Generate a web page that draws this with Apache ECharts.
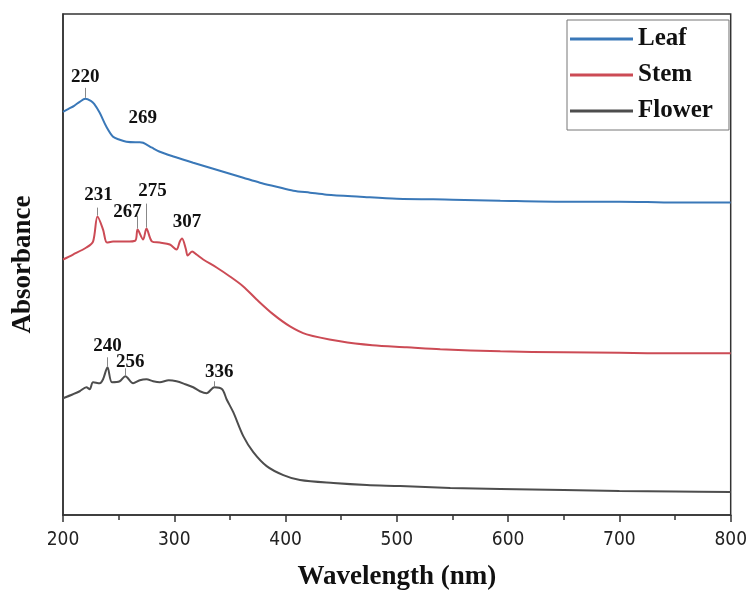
<!DOCTYPE html>
<html>
<head>
<meta charset="utf-8">
<script src="https://cdn.jsdelivr.net/npm/echarts@6/dist/echarts.min.js"></script>
<style>
  html, body { margin: 0; padding: 0; background: #fff; }
  #chart { width: 750px; height: 596px; }
</style>
</head>
<body>
<div id="chart"></div>
<script>
// wavelength (nm) / absorbance (a.u., curves are offset)
const leafWl  = [200, 205, 210, 215, 220, 225, 228, 233, 239, 245, 251, 257, 265, 269, 272, 280, 287, 300, 317, 332, 347, 362, 377, 392, 407, 422, 437, 467, 500, 550, 593, 650, 700, 750, 800];
const leafAbs = [4.04, 4.07, 4.10, 4.14, 4.17, 4.15, 4.12, 4.03, 3.89, 3.79, 3.76, 3.74, 3.735, 3.735, 3.73, 3.68, 3.64, 3.59, 3.53, 3.48, 3.43, 3.38, 3.33, 3.29, 3.25, 3.23, 3.21, 3.19, 3.17, 3.16, 3.15, 3.14, 3.14, 3.13, 3.13];

const stemWl  = [200, 209, 221, 227, 231, 236, 239.5, 245, 257, 265, 267, 272, 275, 280, 287, 296, 302, 305, 307, 310.5, 312, 316, 320, 326, 338, 350, 362, 374, 389, 404, 419, 449, 478, 509, 539, 593, 650, 700, 750, 800];
const stemAbs = [2.56, 2.61, 2.68, 2.74, 2.99, 2.86, 2.73, 2.74, 2.74, 2.75, 2.86, 2.76, 2.87, 2.74, 2.73, 2.71, 2.66, 2.74, 2.77, 2.66, 2.60, 2.64, 2.61, 2.56, 2.48, 2.39, 2.29, 2.16, 2.01, 1.89, 1.81, 1.74, 1.70, 1.68, 1.66, 1.64, 1.63, 1.625, 1.62, 1.62];

const flowerWl  = [200, 209, 215, 221, 224, 227, 233, 236, 240, 244, 251, 256, 263, 269, 275, 281, 287, 295, 302, 310, 317, 323, 329, 336, 343, 347, 353, 362, 371, 383, 398, 413, 443, 473, 503, 548, 593, 650, 700, 750, 800];
const flowerAbs = [1.17, 1.21, 1.24, 1.28, 1.26, 1.33, 1.32, 1.36, 1.48, 1.33, 1.34, 1.39, 1.32, 1.35, 1.36, 1.34, 1.33, 1.35, 1.34, 1.31, 1.28, 1.24, 1.22, 1.28, 1.26, 1.16, 1.03, 0.79, 0.63, 0.49, 0.40, 0.35, 0.32, 0.30, 0.29, 0.27, 0.26, 0.25, 0.24, 0.235, 0.23];

const leafPeaks = [220, 269];
const stemPeaks = [231, 267, 275, 307];
const flowerPeaks = [240, 256, 336];

const xTicks = [200, 300, 400, 500, 600, 700, 800];

// label offset from peak (px) and leader line length (px)
const peakLook = {
  220: { dx: 0, dy: -22, lead: 11 },
  269: { dx: 3, dy: -24, lead: 0 },
  231: { dx: 1, dy: -22, lead: 9 },
  267: { dx: -10, dy: -17, lead: 14 },
  275: { dx: 6, dy: -37, lead: 25 },
  307: { dx: 5, dy: -16, lead: 0 },
  240: { dx: 0, dy: -21, lead: 10 },
  256: { dx: 5, dy: -14, lead: 8 },
  336: { dx: 5, dy: -15, lead: 6 }
};

const PX = 0.01; // one pixel in y units (502px plot for 5.02 units)
const SANS = "'Liberation Sans Narrow', 'DejaVu Sans Condensed', 'Liberation Sans', Arial, sans-serif";
const SERIF = "'Liberation Serif', 'Times New Roman', serif";

function pairs(xs, ys) { return xs.map((x, i) => [x, ys[i]]); }

function peakMarks(xs, ys, peaks) {
  const points = [], leaders = [];
  peaks.forEach(p => {
    const y = ys[xs.indexOf(p)];
    const s = peakLook[p];
    points.push({
      coord: [p, y], value: p,
      label: { offset: [s.dx, s.dy] }
    });
    if (s.lead > 0) {
      leaders.push([{ coord: [p, y + PX] }, { coord: [p, y + s.lead * PX] }]);
    }
  });
  return {
    markPoint: {
      symbol: 'circle', symbolSize: 1, silent: true,
      itemStyle: { color: 'rgba(0,0,0,0)' },
      label: {
        show: true, position: 'inside', formatter: '{c}',
        fontFamily: SERIF, fontWeight: 'bold', fontSize: 19, color: '#111'
      },
      data: points
    },
    markLine: {
      symbol: 'none', silent: true,
      lineStyle: { color: '#888', width: 1, type: 'solid' },
      label: { show: false },
      data: leaders
    }
  };
}

function makeSeries(name, xs, ys, peaks, color) {
  return Object.assign({
    name: name,
    type: 'line',
    data: pairs(xs, ys),
    showSymbol: false,
    smooth: 0.3,
    lineStyle: { color: color, width: 2 },
    itemStyle: { color: color },
    emphasis: { disabled: true }
  }, peakMarks(xs, ys, peaks));
}

const chart = echarts.init(document.getElementById('chart'));
chart.setOption({
  animation: false,
  backgroundColor: '#fff',
  grid: {
    left: 63, right: 19, top: 14, bottom: 80,
    show: true, borderColor: '#333', borderWidth: 1.5
  },
  legend: {
    orient: 'vertical',
    left: 567, top: 20,
    icon: 'rect', itemWidth: 63, itemHeight: 3, itemGap: 10,
    padding: [6, 16, 6, 3],
    borderColor: '#777', borderWidth: 1,
    textStyle: { fontFamily: SERIF, fontWeight: 'bold', fontSize: 25, lineHeight: 26, color: '#111' },
    data: ['Leaf', 'Stem', 'Flower']
  },
  xAxis: {
    type: 'value', min: 200, max: 800, interval: 100,
    name: 'Wavelength (nm)', nameLocation: 'middle', nameGap: 49,
    nameTextStyle: { fontFamily: SERIF, fontWeight: 'bold', fontSize: 27, color: '#111' },
    axisLine: { lineStyle: { color: '#333', width: 1.5 } },
    axisTick: { inside: false, length: 7, lineStyle: { color: '#333', width: 1.5 } },
    minorTick: { show: true, splitNumber: 2, length: 5, lineStyle: { color: '#333', width: 1.5 } },
    splitLine: { show: false },
    axisLabel: {
      margin: 16, fontFamily: SANS, fontSize: 19, color: '#222',
      formatter: v => xTicks.includes(v) ? String(v) : ''
    }
  },
  yAxis: {
    type: 'value', min: 0, max: 5.02,
    name: 'Absorbance', nameLocation: 'middle', nameGap: 26,
    nameTextStyle: { fontFamily: SERIF, fontWeight: 'bold', fontSize: 27, color: '#111' },
    axisLine: { show: true, lineStyle: { color: '#333', width: 1.5 } },
    axisTick: { show: false },
    axisLabel: { show: false },
    splitLine: { show: false }
  },
  series: [
    makeSeries('Leaf', leafWl, leafAbs, leafPeaks, '#3a78b8'),
    makeSeries('Stem', stemWl, stemAbs, stemPeaks, '#cc4b55'),
    makeSeries('Flower', flowerWl, flowerAbs, flowerPeaks, '#4d4d4d')
  ]
});
</script>
</body>
</html>
